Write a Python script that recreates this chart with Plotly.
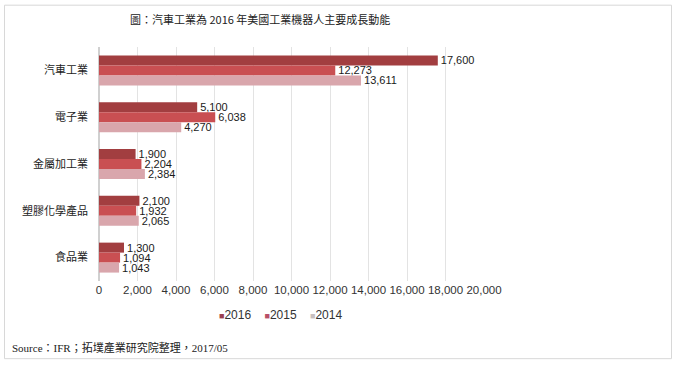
import plotly.graph_objects as go

categories = ["汽車工業", "電子業", "金屬加工業", "塑膠化學產品", "食品業"]
v2016 = [17600, 5100, 1900, 2100, 1300]
v2015 = [12273, 6038, 2204, 1932, 1094]
v2014 = [13611, 4270, 2384, 2065, 1043]
series_names = ["2016", "2015", "2014"]
colors = ["#A23E40", "#C94F52", "#D9A6AC"]
legend_colors = ["#9B4050", "#B85068", "#C8C0C0"]
x_ticks = [0, 2000, 4000, 6000, 8000, 10000, 12000, 14000, 16000, 18000, 20000]
title_text = "圖：汽車工業為 2016 年美國工業機器人主要成長動能"
source_text = "Source：IFR；拓墣產業研究院整理，2017/05"

fig = go.Figure()
for name, vals, col in zip(series_names, [v2016, v2015, v2014], colors):
    fig.add_trace(go.Bar(
        y=categories, x=vals, name=name, orientation="h",
        marker=dict(color=col, line=dict(width=0)),
        text=[f"{v:,}" for v in vals], textposition="outside",
        constraintext="none",
        textfont=dict(family="Liberation Sans, Arial", size=11, color="#1a1a1a"),
        cliponaxis=False,
    ))

W, H = 676, 366
L, R = 99, 484
T, B = 46.5, 281.5
pw, ph = R - L, B - T

def px(x):
    return (x - L) / pw

def py(y):
    return (B - y) / ph

legend_html = "&nbsp;&nbsp;&nbsp;&nbsp;".join(
    f"<span style='color:{c}; font-size:9px'>■</span>{n}" for n, c in zip(series_names, legend_colors)
)

fig.update_layout(
    width=W, height=H,
    margin=dict(l=L, r=W - R, t=T, b=H - B),
    paper_bgcolor="white", plot_bgcolor="white",
    barmode="group", bargap=0.36, bargroupgap=0,
    showlegend=False,
    xaxis=dict(range=[0, 20000], tickvals=x_ticks, ticktext=[f"{t:,}" for t in x_ticks],
               showgrid=True, gridcolor="#E3E3E3", gridwidth=1, zeroline=True,
               zerolinecolor="#D0D0D0", showline=False, ticks="", automargin=False,
               tickfont=dict(family="Liberation Sans, Arial", size=11.5, color="#333")),
    yaxis=dict(autorange="reversed", showgrid=False, ticks="", showline=False,
               ticklabelstandoff=10, automargin=False,
               tickfont=dict(family="Noto Sans CJK TC", size=11, color="#222")),
    annotations=[
        dict(text=title_text, xref="paper", yref="paper", x=px(260), y=py(18),
             xanchor="center", yanchor="middle", showarrow=False,
             font=dict(family="Noto Sans CJK TC", size=11, color="#222")),
        dict(text=legend_html, xref="paper", yref="paper", x=px(280), y=py(316),
             xanchor="center", yanchor="middle", showarrow=False,
             font=dict(family="Liberation Sans, Arial", size=12, color="#333")),
        dict(text=source_text, xref="paper", yref="paper", x=px(10), y=py(348),
             xanchor="left", yanchor="middle", showarrow=False,
             font=dict(family="Liberation Serif, Noto Sans CJK TC", size=11, color="#222")),
    ],
    shapes=[dict(type="rect", xref="paper", yref="paper",
                 x0=px(4.5), x1=px(671.5), y0=py(359.5), y1=py(4.5),
                 line=dict(color="#D8D8D8", width=1), layer="below")],
)

fig.write_html("out.html", config={"displayModeBar": False},
               post_script="document.body.style.margin='0';document.body.style.overflow='hidden';")
